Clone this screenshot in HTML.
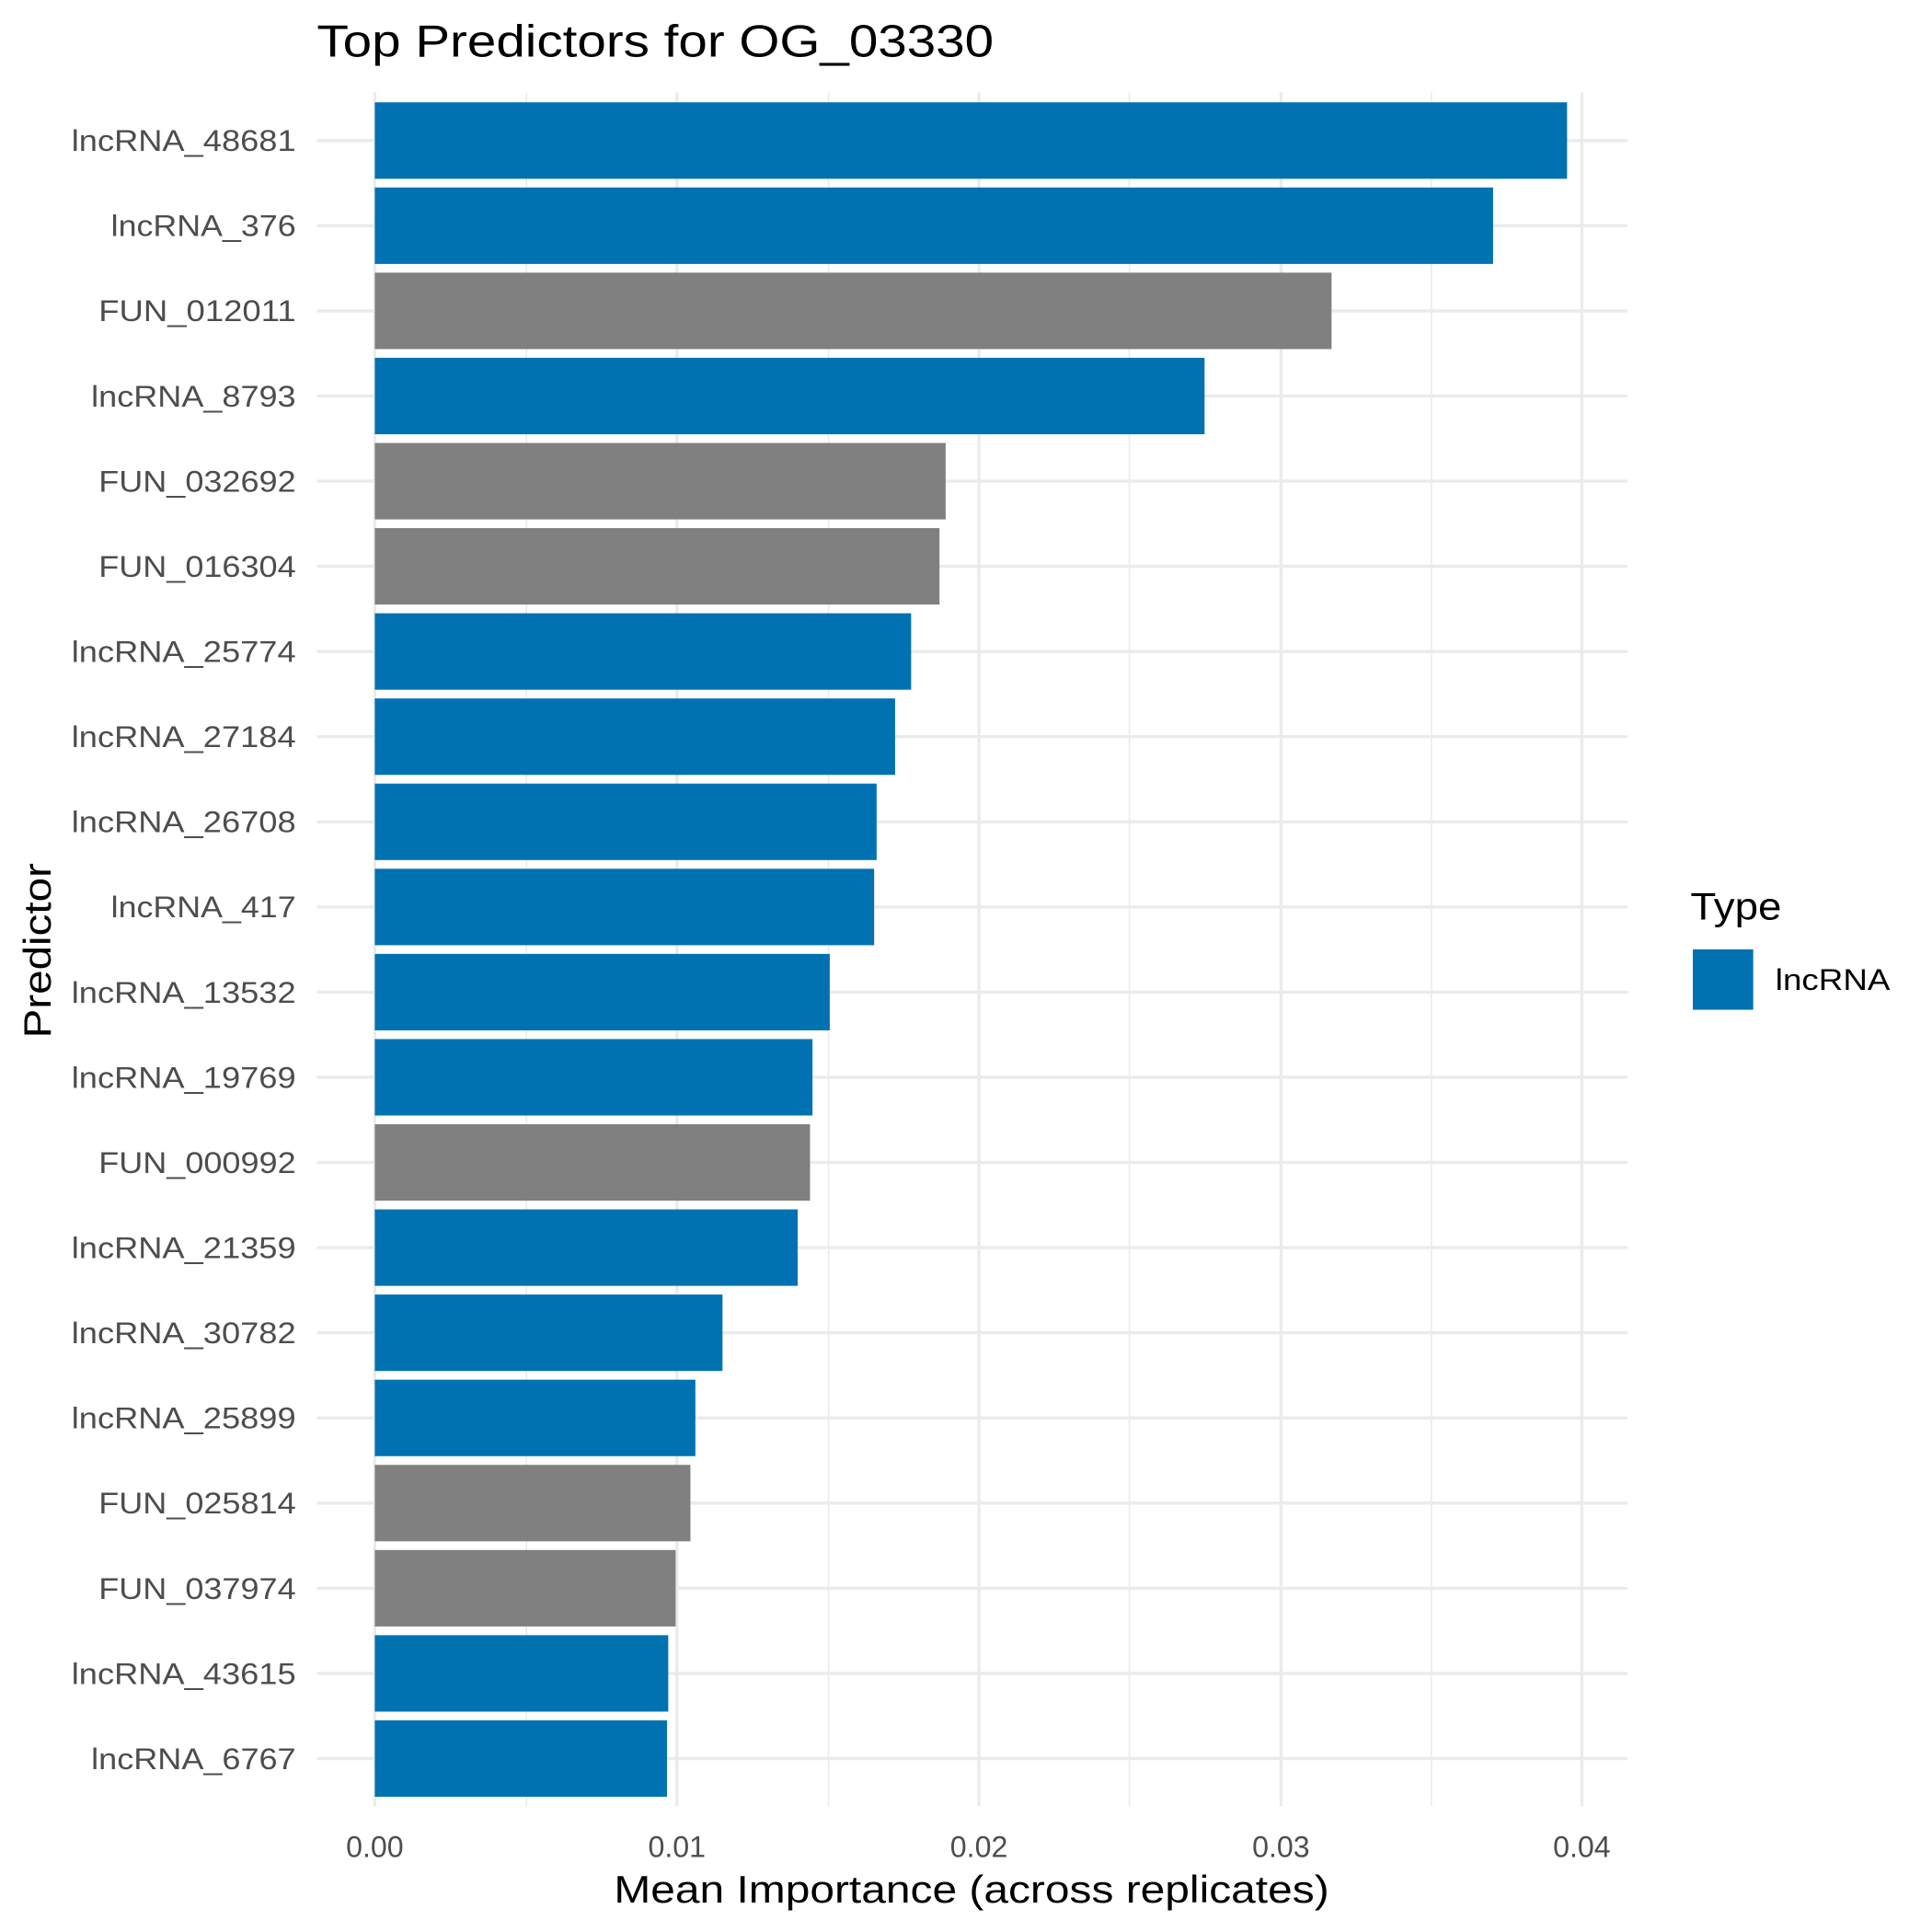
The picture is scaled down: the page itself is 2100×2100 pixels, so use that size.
<!DOCTYPE html>
<html><head><meta charset="utf-8"><style>html,body{margin:0;padding:0;background:#fff}svg{display:block}</style></head>
<body>
<svg width="2100" height="2100" viewBox="0 0 1567 1567" xmlns="http://www.w3.org/2000/svg" font-family="Liberation Sans, DejaVu Sans, sans-serif">
<rect width="1567" height="1567" fill="#fff"/>
<g stroke="#ebebeb" stroke-width="1.2">
<line x1="427" y1="75" x2="427" y2="1465"/><line x1="672" y1="75" x2="672" y2="1465"/><line x1="916" y1="75" x2="916" y2="1465"/><line x1="1161" y1="75" x2="1161" y2="1465"/>
</g>
<g stroke="#ebebeb" stroke-width="2.5">
<line x1="304" y1="75" x2="304" y2="1465"/><line x1="549" y1="75" x2="549" y2="1465"/><line x1="794" y1="75" x2="794" y2="1465"/><line x1="1039" y1="75" x2="1039" y2="1465"/><line x1="1283" y1="75" x2="1283" y2="1465"/>
<line x1="257" x2="1320" y1="114" y2="114"/><line x1="257" x2="1320" y1="183.07" y2="183.07"/><line x1="257" x2="1320" y1="252.14" y2="252.14"/><line x1="257" x2="1320" y1="321.21" y2="321.21"/><line x1="257" x2="1320" y1="390.28" y2="390.28"/><line x1="257" x2="1320" y1="459.35" y2="459.35"/><line x1="257" x2="1320" y1="528.42" y2="528.42"/><line x1="257" x2="1320" y1="597.49" y2="597.49"/><line x1="257" x2="1320" y1="666.56" y2="666.56"/><line x1="257" x2="1320" y1="735.63" y2="735.63"/><line x1="257" x2="1320" y1="804.7" y2="804.7"/><line x1="257" x2="1320" y1="873.77" y2="873.77"/><line x1="257" x2="1320" y1="942.84" y2="942.84"/><line x1="257" x2="1320" y1="1011.91" y2="1011.91"/><line x1="257" x2="1320" y1="1080.98" y2="1080.98"/><line x1="257" x2="1320" y1="1150.05" y2="1150.05"/><line x1="257" x2="1320" y1="1219.12" y2="1219.12"/><line x1="257" x2="1320" y1="1288.19" y2="1288.19"/><line x1="257" x2="1320" y1="1357.26" y2="1357.26"/><line x1="257" x2="1320" y1="1426.33" y2="1426.33"/>
</g>
<g>
<rect x="304" y="83" width="967" height="62" fill="#0072B2"/>
<rect x="304" y="152.07" width="907" height="62" fill="#0072B2"/>
<rect x="304" y="221.14" width="776" height="62" fill="#808080"/>
<rect x="304" y="290.21" width="673" height="62" fill="#0072B2"/>
<rect x="304" y="359.28" width="463" height="62" fill="#808080"/>
<rect x="304" y="428.35" width="458" height="62" fill="#808080"/>
<rect x="304" y="497.42" width="435" height="62" fill="#0072B2"/>
<rect x="304" y="566.49" width="422" height="62" fill="#0072B2"/>
<rect x="304" y="635.56" width="407" height="62" fill="#0072B2"/>
<rect x="304" y="704.63" width="405" height="62" fill="#0072B2"/>
<rect x="304" y="773.7" width="369" height="62" fill="#0072B2"/>
<rect x="304" y="842.77" width="355" height="62" fill="#0072B2"/>
<rect x="304" y="911.84" width="353" height="62" fill="#808080"/>
<rect x="304" y="980.91" width="343" height="62" fill="#0072B2"/>
<rect x="304" y="1049.98" width="282" height="62" fill="#0072B2"/>
<rect x="304" y="1119.05" width="260" height="62" fill="#0072B2"/>
<rect x="304" y="1188.12" width="256" height="62" fill="#808080"/>
<rect x="304" y="1257.19" width="244" height="62" fill="#808080"/>
<rect x="304" y="1326.26" width="238" height="62" fill="#0072B2"/>
<rect x="304" y="1395.33" width="237" height="62" fill="#0072B2"/>
</g>
<g font-size="24" fill="#4d4d4d" text-anchor="end" lengthAdjust="spacingAndGlyphs">
<text x="240" y="122.5" textLength="182" lengthAdjust="spacingAndGlyphs">lncRNA_48681</text>
<text x="240" y="191.5" textLength="150" lengthAdjust="spacingAndGlyphs">lncRNA_376</text>
<text x="240" y="260.6" textLength="160" lengthAdjust="spacingAndGlyphs">FUN_012011</text>
<text x="240" y="329.7" textLength="166" lengthAdjust="spacingAndGlyphs">lncRNA_8793</text>
<text x="240" y="398.8" textLength="160" lengthAdjust="spacingAndGlyphs">FUN_032692</text>
<text x="240" y="467.9" textLength="160" lengthAdjust="spacingAndGlyphs">FUN_016304</text>
<text x="240" y="536.9" textLength="182" lengthAdjust="spacingAndGlyphs">lncRNA_25774</text>
<text x="240" y="606" textLength="182" lengthAdjust="spacingAndGlyphs">lncRNA_27184</text>
<text x="240" y="675.1" textLength="182" lengthAdjust="spacingAndGlyphs">lncRNA_26708</text>
<text x="240" y="744.1" textLength="150" lengthAdjust="spacingAndGlyphs">lncRNA_417</text>
<text x="240" y="813.2" textLength="182" lengthAdjust="spacingAndGlyphs">lncRNA_13532</text>
<text x="240" y="882.3" textLength="182" lengthAdjust="spacingAndGlyphs">lncRNA_19769</text>
<text x="240" y="951.3" textLength="160" lengthAdjust="spacingAndGlyphs">FUN_000992</text>
<text x="240" y="1020.4" textLength="182" lengthAdjust="spacingAndGlyphs">lncRNA_21359</text>
<text x="240" y="1089.5" textLength="182" lengthAdjust="spacingAndGlyphs">lncRNA_30782</text>
<text x="240" y="1158.6" textLength="182" lengthAdjust="spacingAndGlyphs">lncRNA_25899</text>
<text x="240" y="1227.6" textLength="160" lengthAdjust="spacingAndGlyphs">FUN_025814</text>
<text x="240" y="1296.7" textLength="160" lengthAdjust="spacingAndGlyphs">FUN_037974</text>
<text x="240" y="1365.8" textLength="182" lengthAdjust="spacingAndGlyphs">lncRNA_43615</text>
<text x="240" y="1434.8" textLength="166" lengthAdjust="spacingAndGlyphs">lncRNA_6767</text>
</g>
<g font-size="24" fill="#4d4d4d" text-anchor="middle">
<text x="304" y="1506">0.00</text><text x="549" y="1506">0.01</text><text x="794" y="1506">0.02</text><text x="1039" y="1506">0.03</text><text x="1283" y="1506">0.04</text>
</g>
<text x="498" y="1543" font-size="31" fill="#000" textLength="580" lengthAdjust="spacingAndGlyphs">Mean Importance (across replicates)</text>
<text transform="translate(41,842) rotate(-90)" font-size="31" fill="#000" textLength="142" lengthAdjust="spacingAndGlyphs">Predictor</text>
<text x="257" y="46" font-size="37" fill="#000" textLength="549" lengthAdjust="spacingAndGlyphs">Top Predictors for OG_03330</text>
<text x="1371" y="746" font-size="31" fill="#000" textLength="74" lengthAdjust="spacingAndGlyphs">Type</text>
<rect x="1373" y="770" width="49" height="49" fill="#0072B2"/>
<text x="1440" y="803" font-size="24" fill="#000" textLength="93" lengthAdjust="spacingAndGlyphs">lncRNA</text>
</svg>
</body></html>
